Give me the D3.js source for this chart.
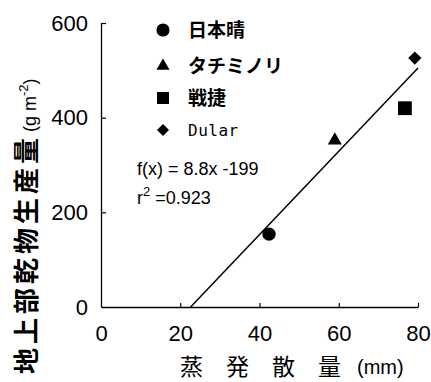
<!DOCTYPE html>
<html>
<head>
<meta charset="utf-8">
<script src="https://cdn.jsdelivr.net/npm/d3@7"></script>
<style>
  body { margin: 0; background: #fff; }
  svg { display: block; }
  text { fill: #000; }
</style>
</head>
<body>
<div id="chart"></div>
<script>
  // chart data
  const varieties = ['日本晴', 'タチミノリ', '戦捷', 'Dular'];
  const symbols = ['circle', 'triangle', 'square', 'diamond'];
  const evap = [42.4, 59.0, 76.7, 79.2];
  const production = [154, 352, 420, 526];
  const xTicks = [0, 20, 40, 60, 80];
  const yTicks = [0, 200, 400, 600];
  const fitSlope = 8.8;
  const fitIntercept = -199;
  const fitLabel = 'f(x) = 8.8x -199';
  const r2Value = '0.923';
  const xTitleChars = ['蒸', '発', '散', '量'];

  const width = 431;
  const height = 382;
  const margin = { top: 23, right: 13, bottom: 75, left: 101 };

  const svg = d3.select('#chart').append('svg')
    .attr('width', width)
    .attr('height', height);

  const x = d3.scaleLinear().domain([0, 80]).range([margin.left, width - margin.right]);
  const y = d3.scaleLinear().domain([0, 600]).range([height - margin.bottom, margin.top]);

  const tickFont = 'Liberation Sans, Arial, sans-serif';
  const jpFont = '"Noto Sans CJK JP", sans-serif';

  // Axes (ticks point inward)
  const xAxis = svg.append('g')
    .attr('transform', `translate(0,${y(0)})`)
    .call(d3.axisBottom(x).tickValues(xTicks).tickSizeInner(-4).tickSizeOuter(0).tickPadding(18));
  xAxis.selectAll('text').attr('font-size', 22).attr('font-family', tickFont).attr('dy', '0.71em');

  const yAxis = svg.append('g')
    .attr('transform', `translate(${x(0)},0)`)
    .call(d3.axisLeft(y).tickValues(yTicks).tickSizeInner(-5).tickSizeOuter(0).tickPadding(13));
  yAxis.selectAll('text').attr('font-size', 22).attr('font-family', tickFont);

  svg.selectAll('.domain').attr('stroke', '#000').attr('stroke-width', 1.3);
  svg.selectAll('.tick line').attr('stroke', '#000').attr('stroke-width', 1.2);
  xAxis.selectAll('.tick').filter(d => d === 0).select('line').remove();
  yAxis.selectAll('.tick').filter(d => d === 0).select('line').remove();

  // Regression line
  const xStart = -fitIntercept / fitSlope;
  svg.append('line')
    .attr('x1', x(xStart)).attr('y1', y(0))
    .attr('x2', x(80)).attr('y2', y(fitSlope * 80 + fitIntercept))
    .attr('stroke', '#000').attr('stroke-width', 1.5);

  const symbolType = {
    circle: d3.symbolCircle,
    triangle: d3.symbolTriangle,
    square: d3.symbolSquare,
    diamond: d3.symbolSquare,
  };
  const symbolRotate = { circle: 0, triangle: 0, square: 0, diamond: 45 };
  const pointSize = { circle: 140, triangle: 85, square: 190, diamond: 88 };
  const legendSize = { circle: 135, triangle: 75, square: 144, diamond: 72 };

  // Data points
  svg.selectAll('.pt')
    .data(varieties.map((v, i) => ({ name: v, sym: symbols[i], x: evap[i], y: production[i] })))
    .join('path')
    .attr('class', 'pt')
    .attr('transform', d => `translate(${x(d.x)},${y(d.y)}) rotate(${symbolRotate[d.sym]})`)
    .attr('d', d => d3.symbol(symbolType[d.sym], pointSize[d.sym])())
    .attr('fill', '#000');

  // Legend
  const legend = svg.append('g').attr('transform', 'translate(163,30)');
  const rowY = [0, 36, 68, 100];
  varieties.forEach((v, i) => {
    legend.append('path')
      .attr('transform', `translate(0,${rowY[i]}) rotate(${symbolRotate[symbols[i]]})`)
      .attr('d', d3.symbol(symbolType[symbols[i]], legendSize[symbols[i]])())
      .attr('fill', '#000');
    const isLatin = /^[A-Za-z]+$/.test(v);
    legend.append('text')
      .attr('x', 25)
      .attr('y', rowY[i])
      .attr('dy', '0.36em')
      .attr('font-family', isLatin ? '"DejaVu Sans Mono", monospace' : jpFont)
      .attr('font-size', isLatin ? 16 : 19)
      .attr('font-weight', isLatin ? 'normal' : 'bold')
      .attr('letter-spacing', isLatin ? 0.5 : 0)
      .text(v);
  });

  // Equation
  svg.append('text')
    .attr('x', 137).attr('y', 175)
    .attr('font-family', tickFont).attr('font-size', 18)
    .text(fitLabel);
  const r2 = svg.append('text')
    .attr('x', 137).attr('y', 204)
    .attr('font-family', tickFont).attr('font-size', 18);
  r2.append('tspan').text('r');
  r2.append('tspan').attr('dy', -8).attr('font-size', 13).text('2');
  r2.append('tspan').attr('dy', 8).text(' =' + r2Value);

  // X title
  const xt = svg.append('text')
    .attr('y', 375)
    .attr('font-family', jpFont).attr('font-size', 23);
  xt.selectAll('tspan')
    .data(xTitleChars)
    .join('tspan')
    .attr('x', (d, i) => 180 + i * 46)
    .text(d => d);
  svg.append('text')
    .attr('x', 357).attr('y', 374)
    .attr('font-family', tickFont).attr('font-size', 20)
    .text('(mm)');

  // Y title
  const yt = svg.append('text')
    .attr('transform', 'translate(36,374) rotate(-90)')
    .attr('font-family', jpFont).attr('font-size', 26).attr('font-weight', 'bold')
    .attr('text-anchor', 'start');
  yt.append('tspan').attr('letter-spacing', 4).text('地上部乾物生産量');
  yt.append('tspan').attr('font-family', tickFont).attr('font-weight', 'normal').attr('font-size', 18).attr('dx', 2).text('(g m');
  yt.append('tspan').attr('font-family', tickFont).attr('font-weight', 'normal').attr('font-size', 13).attr('dy', -8).text('-2');
  yt.append('tspan').attr('font-family', tickFont).attr('font-weight', 'normal').attr('font-size', 18).attr('dy', 8).text(')');
</script>
</body>
</html>
